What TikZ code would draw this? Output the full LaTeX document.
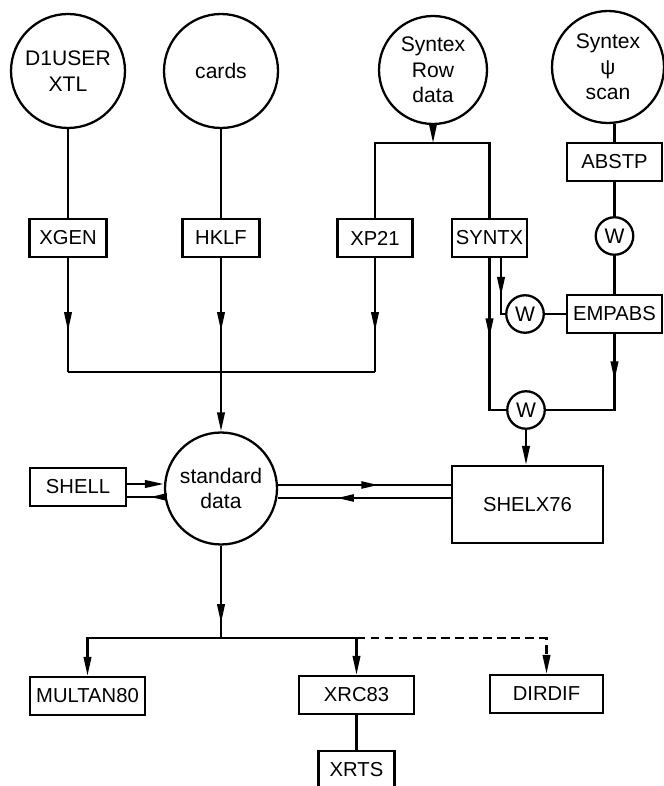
\documentclass[tikz,border=0pt]{standalone}
\usepackage{fontspec}
\setmainfont{Liberation Sans}
\usetikzlibrary{arrows.meta,calc,positioning,decorations.markings}

\tikzset{
  flow/.style={line width=1.3pt},
  prog/.style={draw,line width=1.3pt,inner sep=0pt,minimum height=0.76cm,font=\fontsize{11.5}{14}\selectfont},
  store/.style={draw,circle,line width=1.3pt,inner sep=0pt,align=center,font=\fontsize{12}{14.5}\selectfont},
  wcirc/.style={draw,circle,line width=1.3pt,minimum size=0.75cm,inner sep=0pt,font=\fontsize{12}{14}\selectfont},
  midtip/.style={postaction={decorate},decoration={markings,mark=at position #1 with {\arrow{Triangle[length=0.38cm,width=0.15cm]}}}},
  shorttip/.style={postaction={decorate},decoration={markings,mark=at position #1 with {\arrow{Triangle[length=0.34cm,width=0.14cm]}}}},
  endtip/.style={-{Triangle[length=0.38cm,width=0.15cm]}},
}

\begin{document}
\begin{tikzpicture}[x=0.02cm,y=-0.02cm]
  \useasboundingbox (0,0) rectangle (663,786);

  \node[store,minimum size=2.28cm] (dusr) at (68,71) {D1USER\\XTL};
  \node[store,minimum size=2.28cm] (cards) at (221,71) {cards};
  \node[store,minimum size=2.16cm] (srow) at (433,70) {Syntex\\Row\\data};
  \node[store,minimum size=2.24cm] (spsi) at (608,67) {Syntex\\ψ\\scan};

  \foreach \n/\x/\y/\w/\t in {
     xgen/68/238/1.54/XGEN,
     hklf/221/238/1.54/HKLF,
     xp21/375/238/1.5/XP21,
     syntx/489.5/238/1.5/SYNTX,
     abstp/614.5/162/1.9/ABSTP,
     empabs/614.5/314/1.9/EMPABS,
     shell/78/487/1.92/SHELL,
     multan/87.5/696/2.3/MULTAN80,
     xrc/356.5/695/2.3/XRC83,
     dirdif/546.5/694/2.26/DIRDIF,
     xrts/356.5/770/1.52/XRTS}
  { \node[prog,minimum width=\w cm] (\n) at (\x,\y) {\t}; }
  \node[prog,minimum width=3.02cm,minimum height=1.54cm] (shelx) at (527.5,504.5) {SHELX76};

  \node[wcirc] (w1) at (614.5,236) {W};
  \node[wcirc] (w2) at (525,314) {W};
  \node[wcirc] (w3) at (526,410) {W};

  \node[store,minimum size=2.24cm] (std) at (221,488.5) {standard\\data};

  \draw[flow] (dusr) -- (xgen);
  \draw[flow] (cards) -- (hklf);
  \coordinate (rowbar) at (433,143);
  \draw[flow,endtip] (srow) -- (rowbar);
  \draw[flow] (xp21.north) |- (rowbar) -| (syntx.north);
  \draw[flow] (abstp.north) -- (abstp.north |- spsi.south);
  \draw[flow] (abstp) -- (w1) -- (empabs);
  \draw[flow] (w2) -- (empabs);

  \coordinate (sxr) at ($(syntx.south)+(11.5,0)$);
  \draw[flow,midtip=0.63] (sxr) |- (w2);
  \draw[flow,midtip=0.47] (syntx.south) |- (w3);
  \draw[flow,midtip=0.32] (empabs.south) |- (w3);
  \draw[flow,endtip] (w3) -- (w3 |- shelx.north);

  \coordinate (jx) at (68,372);
  \coordinate (jh) at (221,372);
  \coordinate (jp) at (375,372);
  \foreach \a/\b in {xgen/jx,hklf/jh,xp21/jp}
    \draw[flow,midtip=0.64] (\a) -- (\b);
  \draw[flow] (jx) -- (jp);
  \draw[flow,endtip] (jh) -- (std);

  \coordinate (shu) at ([yshift=0.06cm]shell.east);
  \coordinate (shd) at ([yshift=-0.2cm]shell.east);
  \draw[flow,endtip] (shu) -- (shu -| std.west);
  \draw[flow,shorttip=0.38] (shd -| std.west) -- (shd);

  \coordinate (stu) at ([yshift=0.07cm]std.east);
  \coordinate (sdl) at ([yshift=-0.19cm]std.east);
  \draw[flow,shorttip=0.58] (stu) -- (stu -| shelx.west);
  \draw[flow,shorttip=0.66] (sdl -| shelx.west) -- (sdl);

  \coordinate (jb) at (221,638);
  \draw[flow,midtip=0.84] (std) -- (jb);
  \draw[flow,endtip] (jb) -| (multan);
  \draw[flow,endtip] (jb) -| (xrc);
  \draw[flow,dashed,dash pattern=on 5pt off 3pt,endtip] (xrc.north |- jb) -| (dirdif);
  \draw[flow] (xrc) -- (xrts);
\end{tikzpicture}
\end{document}
